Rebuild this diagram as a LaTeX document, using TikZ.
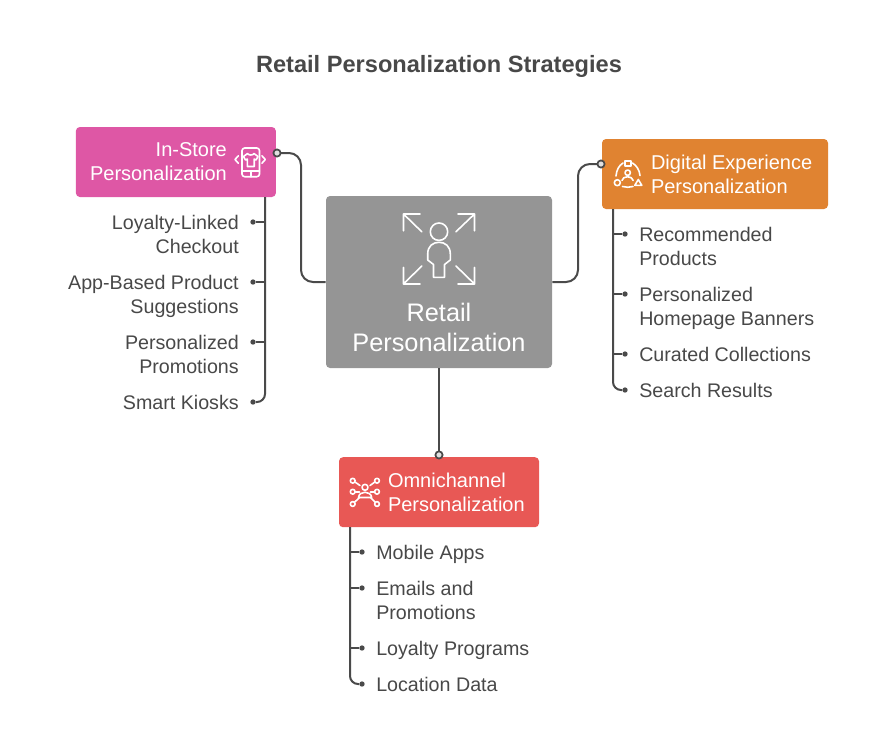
\documentclass[tikz,border=0pt]{standalone}
\usepackage{xcolor}
\usepackage{fontspec}
\setmainfont{Liberation Sans}
\usepackage{tikz}
\usetikzlibrary{positioning,calc}
\definecolor{RetailPink}{RGB}{222,87,165}
\definecolor{RetailOrange}{RGB}{224,131,49}
\definecolor{RetailRed}{RGB}{232,88,85}
\definecolor{RetailGray}{RGB}{149,149,149}
\definecolor{TextGray}{RGB}{72,72,72}
\definecolor{LineGray}{RGB}{74,74,74}
\newcommand{\boxfont}{\fontsize{15}{18}\selectfont}
\newcommand{\itemfont}{\fontsize{14.75}{18}\selectfont}
\tikzset{
  catbox/.style={rounded corners=3pt,minimum width=150pt,minimum height=52.5pt,inner sep=0pt},
  mainbox/.style={fill=RetailGray,rounded corners=3pt,minimum width=169.5pt,minimum height=129pt,inner sep=0pt},
  boxlabel/.style={text=white,font=\boxfont,inner sep=0pt,yshift=-2.6pt,execute at begin node=\strut,execute at end node=\strut},
  itemlabel/.style={text=TextGray,font=\itemfont,inner sep=0pt,yshift=-1.9pt,execute at begin node=\strut,execute at end node=\strut},
  tickdot/.style={circle,fill=LineGray,inner sep=0pt,minimum size=4pt},
  knob/.style={circle,draw=LineGray,fill=white!88!black,line width=1.3pt,inner sep=0pt,minimum size=5.4pt},
  link/.style={draw=LineGray,line width=1.5pt},
  icon/.style={draw=white,line width=1.2pt,line cap=round,line join=round}
}
\begin{document}
\begin{tikzpicture}[x=0.75pt,y=-0.75pt]
\useasboundingbox (0,0) rectangle (878,744);

\node[font=\fontsize{17.7}{22}\selectfont\bfseries,text=TextGray] (title) at (439,66) {Retail Personalization Strategies};

\node[mainbox] (main) at (439,282) {};
\node[catbox,fill=RetailPink,left=37.5pt of main,yshift=90pt,xshift=0.3pt] (instore) {};
\node[catbox,fill=RetailOrange,minimum width=169.5pt,right=37.5pt of main,yshift=81pt,xshift=-0.4pt] (digital) {};
\node[catbox,fill=RetailRed,below=66.5pt of main] (omni) {};

\node[boxlabel,left=36.75pt of instore.east,align=right] (instorelabel) {In-Store\\Personalization};
\node[boxlabel,right=36.75pt of digital.west,align=left] (digitallabel) {Digital Experience\\Personalization};
\node[boxlabel,right=36.75pt of omni.west,align=left] (omnilabel) {Omnichannel\\Personalization};
\node[boxlabel,font=\fontsize{19}{22.5}\selectfont,align=center] (mainlabel) at (439,328) {Retail\\Personalization};

% connectors from the centre box
\coordinate (bendS) at (301,153);
\coordinate (bendD) at (578,164);
\draw[link,rounded corners=9pt] (main.west) -| (bendS) -- (277,153) coordinate (endS);
\draw[link,rounded corners=9pt] (main.east) -| (bendD) -- (601,164) coordinate (endD);
\draw[link] (main.south) -- ([yshift=1.5pt]omni.north) coordinate (endO);
\node[knob] (knobS) at (endS) {};
\node[knob] (knobD) at (endD) {};
\node[knob] (knobO) at (endO) {};

% in-store list
\coordinate (stemS) at (265,197);
\node[tickdot] (s1) at (253,222) {};
\node[tickdot] (s2) at (253,282) {};
\node[tickdot] (s3) at (253,342) {};
\node[tickdot] (s4) at (253,402) {};
\node[itemlabel,left=10.5pt of s1.center,yshift=-10.2pt,align=right] (s1text) {Loyalty-Linked\\Checkout};
\node[itemlabel,left=10.5pt of s2.center,yshift=-10.2pt,align=right] (s2text) {App-Based Product\\Suggestions};
\node[itemlabel,left=10.5pt of s3.center,yshift=-10.2pt,align=right] (s3text) {Personalized\\Promotions};
\node[itemlabel,left=10.5pt of s4.center,align=right] (s4text) {Smart Kiosks};
\draw[link,rounded corners=6pt] (stemS) |- (s4);
\foreach \i in {1,2,3} {
  \draw[link] (s\i) -- (s\i -| stemS);
}

% digital list
\coordinate (stemD) at (613,209);
\node[tickdot] (d1) at (625,234) {};
\node[tickdot] (d2) at (625,294) {};
\node[tickdot] (d3) at (625,354) {};
\node[tickdot] (d4) at (625,390) {};
\node[itemlabel,right=10.5pt of d1.center,yshift=-10.2pt,align=left] (d1text) {Recommended\\Products};
\node[itemlabel,right=10.5pt of d2.center,yshift=-10.2pt,align=left] (d2text) {Personalized\\Homepage Banners};
\node[itemlabel,right=10.5pt of d3.center,align=left] (d3text) {Curated Collections};
\node[itemlabel,right=10.5pt of d4.center,align=left] (d4text) {Search Results};
\draw[link,rounded corners=6pt] (stemD) |- (d4);
\foreach \i in {1,2,3} {
  \draw[link] (d\i) -- (d\i -| stemD);
}

% omnichannel list
\coordinate (stemO) at (350,527);
\node[tickdot] (o1) at (362,552) {};
\node[tickdot] (o2) at (362,588) {};
\node[tickdot] (o3) at (362,648) {};
\node[tickdot] (o4) at (362,684) {};
\node[itemlabel,right=10.5pt of o1.center,align=left] (o1text) {Mobile Apps};
\node[itemlabel,right=10.5pt of o2.center,yshift=-10.2pt,align=left] (o2text) {Emails and\\Promotions};
\node[itemlabel,right=10.5pt of o3.center,align=left] (o3text) {Loyalty Programs};
\node[itemlabel,right=10.5pt of o4.center,align=left] (o4text) {Location Data};
\draw[link,rounded corners=6pt] (stemO) |- (o4);
\foreach \i in {1,2,3} {
  \draw[link] (o\i) -- (o\i -| stemO);
}

% person icon
\draw[icon] (439,231.7) circle[radius=8.7];
\draw[icon] (433.5,277.3) -- (433.5,264.5) -- (427.7,260) -- (427.7,254) .. controls (427.7,246) and (433,242.3) .. (439,242.3) .. controls (445,242.3) and (450.3,246) .. (450.3,254) -- (450.3,260) -- (444.5,264.5) -- (444.5,277.3) -- cycle;
\draw[icon] (420,214) -- (403.5,214) -- (403.5,230.7) (403.5,214) -- (421.7,231.7);
\draw[icon] (458,214) -- (474.5,214) -- (474.5,230.7) (474.5,214) -- (456,231.7);
\draw[icon] (420,284) -- (403.5,284) -- (403.5,267.3) (403.5,284) -- (421.7,266);
\draw[icon] (458,284) -- (474.5,284) -- (474.5,267.3) (474.5,284) -- (456,266);

% phone icon
\draw[icon,rounded corners=2pt] (242,148) rectangle (259.5,176.7);
\draw[icon] (242,171) -- (259.5,171) (250.7,171) -- (250.7,176.7);
\draw[icon] (247.5,153.5) -- (243.5,156.5) -- (245.5,160) -- (247.3,159) -- (247.3,166.5) -- (254.2,166.5) -- (254.2,159) -- (256,160) -- (258,156.5) -- (254,153.5) .. controls (253,155.5) and (248.5,155.5) .. (247.5,153.5) -- cycle;
\draw[icon] (238.3,155.8) -- (235,159.5) -- (238.3,163.2);
\draw[icon] (262,155.8) -- (265.3,159.5) -- (262,163.2);

% shapes and person icon
\draw[icon] (625,160.7) rectangle (630.7,166);
\draw[icon] (627.7,172.7) circle[radius=2.7];
\draw[icon] (622,180.5) .. controls (622.5,175.5) and (632.5,175.5) .. (633.2,180.5);
\draw[icon] (617.3,182.7) circle[radius=3];
\draw[icon] (638.3,179.5) -- (641.8,185.3) -- (634.8,185.3) -- cycle;
\draw[icon] (616,176) .. controls (616.5,170) and (619,165.5) .. (623,163);
\draw[icon] (632.5,163) .. controls (636.5,165.5) and (639.5,170) .. (640,175.5);
\draw[icon] (622.5,186.5) .. controls (626,187.5) and (629.5,187.5) .. (633,186.5);

% network icon
\draw[icon] (365,487.3) circle[radius=3];
\draw[icon] (358.5,497.5) .. controls (359,490.5) and (371,490.5) .. (371.7,497.5) -- cycle;
\foreach \nx/\ny in {352.7/480.7,377/480.7,352.7/491.7,377/491.7,352.7/504,377/504} {
  \draw[icon] (\nx,\ny) circle[radius=2.4];
}
\draw[icon] (355,482) -- (360,485.5);
\draw[icon] (374.8,482) -- (370,485.5);
\draw[icon] (355.1,491.7) -- (359.5,491.7);
\draw[icon] (374.6,491.7) -- (370.5,491.7);
\draw[icon] (354.5,502.3) -- (359.5,497.5);
\draw[icon] (375.2,502.3) -- (370.5,497.5);
\end{tikzpicture}
\end{document}
